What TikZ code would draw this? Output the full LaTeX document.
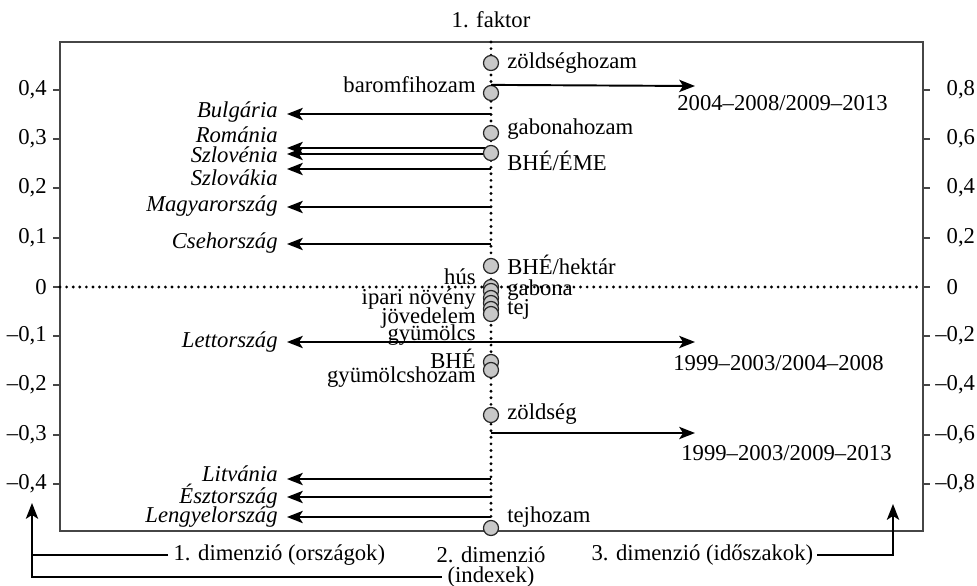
\documentclass[tikz,border=0pt]{standalone}
\usepackage{fontspec}
\setmainfont{Liberation Serif}
\usepackage{xcolor}
\definecolor{ptgray}{RGB}{200,200,200}
\definecolor{framegray}{RGB}{70,70,70}
\usepackage{tikz}
\usetikzlibrary{arrows.meta, positioning}
\newcommand{\lblfont}{\fontsize{12.9}{14}\selectfont}
\tikzset{
  factorpt/.style={circle, draw=black!85, fill=ptgray, line width=0.7pt, minimum size=0.3cm, inner sep=0pt},
  lbl/.style={inner sep=0pt, font=\lblfont},
  cntry/.style={inner sep=0pt, anchor=east, font=\lblfont\itshape},
  arr/.style={-{Stealth[length=9pt,width=7pt,inset=2.2pt]}, line width=1.1pt},
  dotline/.style={line width=1.8pt, line cap=round, dash pattern=on 0pt off 3.75pt},
}

\begin{document}
\begin{tikzpicture}[x=0.02cm, y=-0.02cm]
  \useasboundingbox (0,0) rectangle (977,585);

  % Frame and axes
  \draw[framegray, line width=1pt] (60,42) rectangle (923,531);
  \foreach \y/\t in {90/{0,4}, 139/{0,3}, 188/{0,2}, 238/{0,1}, 287/{0}, 336/{–0,1}, 385/{–0,2}, 435/{–0,3}, 484/{–0,4}} {
    \draw[framegray, line width=1pt] (53,\y) -- (60,\y);
    \node[lbl, anchor=east] at (47,\y) {\t};
  }
  \foreach \y/\t in {90/{\phantom{–}0,8}, 139/{\phantom{–}0,6}, 188/{\phantom{–}0,4}, 238/{\phantom{–}0,2}, 287/{\phantom{–}0}, 336/{–0,2}, 385/{–0,4}, 435/{–0,6}, 484/{–0,8}} {
    \draw[framegray, line width=1pt] (923,\y) -- (930,\y);
    \node[lbl, anchor=west] at (935,\y) {\t};
  }
  \draw[dotline] (60,287) -- (923,287);
  \draw[dotline] (491,42) -- (491,531);
  \node[lbl] (faktor) at (491,20) {1. faktor};

  % Countries (1. dimension)
  \foreach \nm/\y in {bg/114, ro/148, si/154, sk/169, hu/207, cz/244, lt/479, ee/497, pl/517} {
    \coordinate (\nm-s) at (491,\y);
    \coordinate (\nm-t) at (287,\y);
    \draw[arr] (\nm-s) -- (\nm-t);
  }
  \coordinate (lv-s) at (287,342);
  \coordinate (lv-t) at (695,342);
  \draw[arr, {Stealth[length=9pt,width=7pt,inset=2.2pt]}-{Stealth[length=9pt,width=7pt,inset=2.2pt]}] (lv-s) -- (lv-t);
  \node[cntry] (bulg) at (278,112) {Bulgária};
  \node[cntry] (rom) at (278,135) {Románia};
  \node[cntry] (slo) at (278,155) {Szlovénia};
  \node[cntry] (slk) at (278,178) {Szlovákia};
  \node[cntry] (hun) at (278,206) {Magyarország};
  \node[cntry] (cze) at (278,243) {Csehország};
  \node[cntry] (lat) at (278,342) {Lettország};
  \node[cntry] (lit) at (278,474) {Litvánia};
  \node[cntry] (est) at (278,496) {Észtország};
  \node[cntry] (pol) at (278,517) {Lengyelország};

  % Periods (3. dimension)
  \coordinate (p1-t) at (695,86);
  \coordinate (p3-s) at (491,433);
  \coordinate (p3-t) at (695,433);
  \node[lbl, anchor=west] (per1) at (677,103) {2004–2008/2009–2013};
  \node[lbl, anchor=west] (per2) at (673,363) {1999–2003/2004–2008};
  \node[lbl, anchor=west] (per3) at (681,453) {1999–2003/2009–2013};
  \draw[arr] (p3-s) -- (p3-t);

  % Indexes (2. dimension)
  \node[factorpt] (zoldhoz) at (491,63) {};
  \node[factorpt] (baromfi) at (491,93) {};
  \node[factorpt] (gabhoz) at (491,133) {};
  \node[factorpt] (eme) at (491,153) {};
  \node[factorpt] (hektar) at (491,266) {};
  \node[factorpt] (hus) at (491,287) {};
  \node[factorpt] (gabona) at (491,291) {};
  \node[factorpt] (ipari) at (491,298) {};
  \node[factorpt] (gyum) at (491,303) {};
  \node[factorpt] (tej) at (491,309) {};
  \node[factorpt] (jov) at (491,314) {};
  \node[factorpt] (bhe) at (491,362) {};
  \node[factorpt] (gyumhoz) at (491,370) {};
  \node[factorpt] (zoldseg) at (491,415) {};
  \node[factorpt] (tejhoz) at (491,528) {};
  \draw[arr] (baromfi.north) -- (p1-t);

  \node[lbl, anchor=west] at (507,63) {zöldséghozam};
  \node[lbl, anchor=east] at (476,85) {baromfihozam};
  \node[lbl, anchor=west] at (507,129) {gabonahozam};
  \node[lbl, anchor=west] at (507,161) {BHÉ/ÉME};
  \node[lbl, anchor=west] at (507,265) {BHÉ/hektár};
  \node[lbl, anchor=east] at (476,277) {hús};
  \node[lbl, anchor=west] at (507,290) {gabona};
  \node[lbl, anchor=east] at (476,299) {ipari növény};
  \node[lbl, anchor=west] at (507,309) {tej};
  \node[lbl, anchor=east] at (476,318) {jövedelem};
  \node[lbl, anchor=east] at (476,335) {gyümölcs};
  \node[lbl, anchor=east] at (476,359) {BHÉ};
  \node[lbl, anchor=east] at (476,377) {gyümölcshozam};
  \node[lbl, anchor=west] at (507,414) {zöldség};
  \node[lbl, anchor=west] at (507,517) {tejhozam};

  % Dimension notes
  \coordinate (tipL) at (32,503);
  \coordinate (tipR) at (893,504);
  \node[lbl, anchor=west, inner sep=3pt] (dim1) at (168,555) {1. dimenzió (országok)};
  \node[lbl] (dim2) at (491,555) {2. dimenzió};
  \node[lbl, inner sep=3pt] (idx) at (491,577) {(indexek)};
  \node[lbl, anchor=east, inner sep=2pt] (dim3) at (817,555) {3. dimenzió (időszakok)};
  \draw[arr] (idx.west) -| (tipL);
  \draw[line width=1.1pt] (dim1.west) -- (dim1.west -| tipL);
  \draw[arr] (dim3.east) -| (tipR);
\end{tikzpicture}
\end{document}
